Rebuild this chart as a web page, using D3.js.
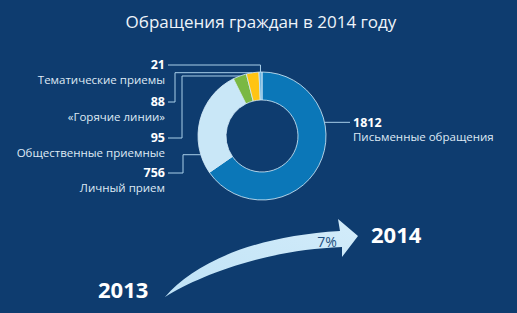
<!DOCTYPE html>
<html>
<head>
<meta charset="utf-8">
<script src="https://cdn.jsdelivr.net/npm/d3@7"></script>
<style>
  html, body { margin: 0; padding: 0; background: #0e3c6f; }
  svg { display: block; }
</style>
</head>
<body>
<svg id="chart" width="517" height="313"></svg>
<script>
// Data
const title = "Обращения граждан в 2014 году";
const categories = ["Письменные обращения", "Личный прием", "Общественные приемные", "«Горячие линии»", "Тематические приемы"];
const values = [1812, 756, 95, 88, 21];
const yearFrom = "2013";
const yearTo = "2014";
const growthLabel = "7%";

// Styles / layout
const sliceColors = ["#0b77b8", "#c9e7f7", "#7ab843", "#ffc413", "#6fb4de"];
const bgColor = "#0e3c6f";
const lineColor = "#a9cfe9";
const font = "'Open Sans', sans-serif";
const width = 517, height = 313;
const cx = 262, cy = 136, outerR = 64, innerR = 36;

// left labels: y of number, elbow x; fraction along slice where each leader hits
const leftLabelY = { 4: 65, 3: 102, 2: 138, 1: 173 };
const leftElbowX = { 4: null, 3: 175, 2: 182, 1: 183 };
const leaderFrac = [0.33, 0.18, 0.5, 0.5, 0.5];

const svg = d3.select("#chart");
svg.append("rect").attr("width", width).attr("height", height).attr("fill", bgColor);

svg.append("text")
    .attr("x", 261).attr("y", 28)
    .attr("text-anchor", "middle")
    .style("font-family", font)
    .style("font-size", "17px")
    .attr("fill", "#eef4fa")
    .text(title);

// Donut
const pie = d3.pie().sort(null).value(d => d)(values);
const arc = d3.arc().innerRadius(innerR).outerRadius(outerR);
const g = svg.append("g").attr("transform", `translate(${cx},${cy})`);

g.selectAll("path.slice")
    .data(pie)
    .join("path")
    .attr("class", "slice")
    .attr("d", arc)
    .attr("fill", (d, i) => sliceColors[i])
    .attr("stroke", "#d8eefa")
    .attr("stroke-width", 0.8);

// point on the outer edge of a slice
function edgePoint(d, frac) {
    const a = d.startAngle + (d.endAngle - d.startAngle) * frac;
    return [cx + outerR * Math.sin(a), cy - outerR * Math.cos(a)];
}

// Leader lines
const leaders = svg.append("g")
    .attr("fill", "none")
    .attr("stroke", lineColor)
    .attr("stroke-width", 1);

pie.forEach((d, i) => {
    const [px, py] = edgePoint(d, leaderFrac[i]);
    const p = d3.path();
    if (i === 0) {
        p.moveTo(px, py);
        p.lineTo(350, py);
    } else if (leftElbowX[i] === null) {
        p.moveTo(168, leftLabelY[i]);
        p.lineTo(px, leftLabelY[i]);
        p.lineTo(px, py);
    } else {
        p.moveTo(168, leftLabelY[i]);
        p.lineTo(leftElbowX[i], leftLabelY[i]);
        p.lineTo(leftElbowX[i], py);
        p.lineTo(px, py);
    }
    leaders.append("path").attr("d", p.toString());
});

// Labels
const labels = svg.append("g").style("font-family", font);
pie.forEach((d, i) => {
    let x, y, anchor;
    if (i === 0) {
        x = 353; y = edgePoint(d, leaderFrac[0])[1]; anchor = "start";
    } else {
        x = 165; y = leftLabelY[i]; anchor = "end";
    }
    labels.append("text")
        .attr("x", x).attr("y", y)
        .attr("dy", "0.35em")
        .attr("text-anchor", anchor)
        .style("font-size", "12.5px")
        .style("font-weight", "bold")
        .attr("fill", "#ffffff")
        .text(values[i]);
    labels.append("text")
        .attr("x", x).attr("y", y + 15)
        .attr("dy", "0.35em")
        .attr("text-anchor", anchor)
        .style("font-size", "11.5px")
        .attr("fill", "#dfeaf5")
        .text(categories[i]);
});

// Growth arrow
const defs = svg.append("defs");
const grad = defs.append("linearGradient").attr("id", "arrowGrad")
    .attr("x1", "0").attr("y1", "1").attr("x2", "1").attr("y2", "0");
grad.append("stop").attr("offset", "0").attr("stop-color", "#bfe2f6");
grad.append("stop").attr("offset", "1").attr("stop-color", "#d3ecfa");

const ap = d3.path();
ap.moveTo(165, 297);
ap.bezierCurveTo(195, 262, 255, 236, 340, 231);
ap.lineTo(338, 219);
ap.lineTo(358, 236);
ap.lineTo(342, 257);
ap.lineTo(342, 247);
ap.bezierCurveTo(265, 250, 200, 275, 165, 297);
ap.closePath();
svg.append("path")
    .attr("d", ap.toString())
    .attr("fill", "url(#arrowGrad)");

svg.append("text")
    .attr("x", 327).attr("y", 242)
    .attr("dy", "0.35em")
    .attr("text-anchor", "middle")
    .style("font-family", font)
    .style("font-size", "14px")
    .attr("fill", "#1d4f80")
    .text(growthLabel);

svg.append("text")
    .attr("x", 98).attr("y", 298)
    .style("font-family", font)
    .style("font-size", "22px")
    .style("font-weight", "bold")
    .attr("fill", "#ffffff")
    .text(yearFrom);

svg.append("text")
    .attr("x", 371).attr("y", 243)
    .style("font-family", font)
    .style("font-size", "22px")
    .style("font-weight", "bold")
    .attr("fill", "#ffffff")
    .text(yearTo);
</script>
</body>
</html>
